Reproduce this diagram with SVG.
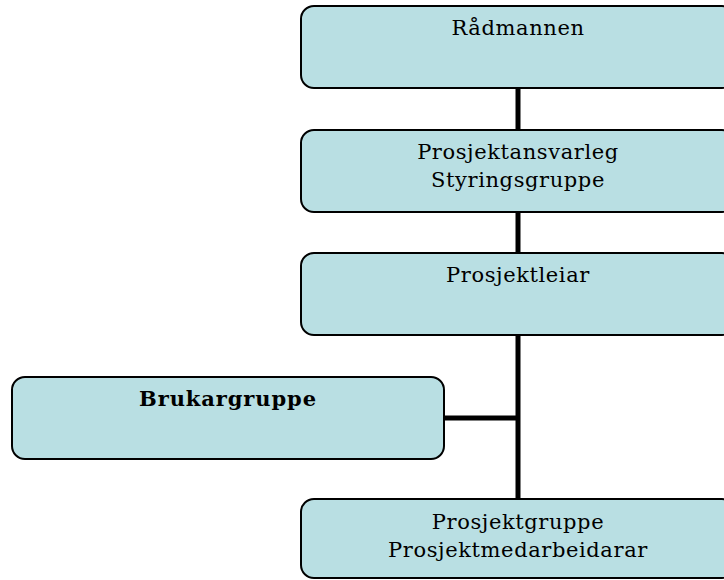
<svg xmlns="http://www.w3.org/2000/svg" width="724" height="580" viewBox="0 0 724 580">
<style>
.box{fill:#b9dfe3;stroke:#000;stroke-width:2}
.t{font-family:"DejaVu Serif","Liberation Serif",serif;font-size:21px;letter-spacing:0.6px;fill:#000;text-anchor:middle}
.b{font-weight:bold;letter-spacing:0.9px}
.c{stroke:#000;stroke-width:5;fill:none}
</style>
<rect width="724" height="580" fill="#fff"/>
<g id="connectors">
<line class="c" x1="518" y1="88" x2="518" y2="131"/>
<line class="c" x1="518" y1="212" x2="518" y2="254"/>
<line class="c" x1="518" y1="335" x2="518" y2="500"/>
<line class="c" x1="444" y1="418" x2="518" y2="418"/>
</g>
<g id="radmannen">
<rect class="box" x="301" y="6" width="434" height="82" rx="13"/>
<text class="t" x="518" y="35">Rådmannen</text>
</g>
<g id="prosjektansvarleg">
<rect class="box" x="301" y="130" width="434" height="82" rx="13"/>
<text class="t" x="518" y="159">Prosjektansvarleg</text>
<text class="t" x="518" y="187">Styringsgruppe</text>
</g>
<g id="prosjektleiar">
<rect class="box" x="301" y="253" width="434" height="82" rx="13"/>
<text class="t" x="518" y="282">Prosjektleiar</text>
</g>
<g id="brukargruppe">
<rect class="box" x="12" y="377" width="432" height="82" rx="13"/>
<text class="t b" x="228" y="406">Brukargruppe</text>
</g>
<g id="prosjektgruppe">
<rect class="box" x="301" y="499" width="434" height="79" rx="13"/>
<text class="t" x="518" y="529">Prosjektgruppe</text>
<text class="t" x="518" y="557">Prosjektmedarbeidarar</text>
</g>
</svg>
